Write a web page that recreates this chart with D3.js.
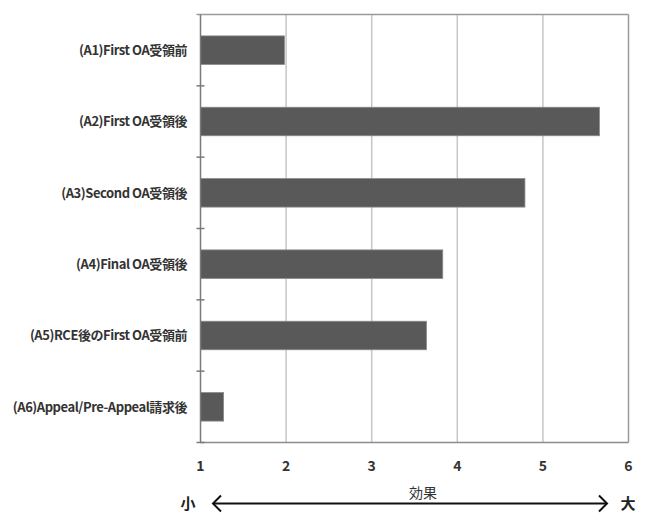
<!DOCTYPE html>
<html><head><meta charset="utf-8">
<script src="https://cdn.jsdelivr.net/npm/d3@7"></script>
<style>
html,body{margin:0;padding:0;background:#fff;}
svg{display:block;}
text{font-family:"Noto Sans CJK JP","Noto Sans",sans-serif;}
</style></head>
<body>
<svg id="c" width="650" height="513"></svg>
<script>
const categories = [
  "(A1)First OA受領前",
  "(A2)First OA受領後",
  "(A3)Second OA受領後",
  "(A4)Final OA受領後",
  "(A5)RCE後のFirst OA受領前",
  "(A6)Appeal/Pre-Appeal請求後"
];
const values = [1.98, 5.66, 4.79, 3.83, 3.64, 1.27];
const xTicks = [1, 2, 3, 4, 5, 6];
const axisTitle = "効果";
const lowLabel = "小";
const highLabel = "大";

const svg = d3.select("#c");
const L = 200.5, R = 628.5, T = 14.5, B = 442.5;

const x = d3.scaleLinear().domain([1, 6]).range([L, R]);
const y = d3.scaleBand().domain(categories).range([T, B]).paddingInner(0.6).paddingOuter(0.3);

// gridlines
svg.append("g").selectAll("line").data(xTicks.filter(d => d > 1 && d < 6)).join("line")
  .attr("x1", d => x(d)).attr("x2", d => x(d)).attr("y1", T).attr("y2", B)
  .attr("stroke", "#c6c6c6").attr("stroke-width", 1.5);

// border top & right
svg.append("line").attr("x1", L - 4).attr("x2", R).attr("y1", T).attr("y2", T)
  .attr("stroke", "#9a9a9a").attr("stroke-width", 1.5);
svg.append("line").attr("x1", R).attr("x2", R).attr("y1", T).attr("y2", B)
  .attr("stroke", "#9a9a9a").attr("stroke-width", 1.5);

// bars
svg.append("g").selectAll("rect").data(categories).join("rect")
  .attr("x", x(1))
  .attr("y", d => y(d))
  .attr("width", (d, i) => x(values[i]) - x(1))
  .attr("height", y.bandwidth())
  .attr("fill", "#595959")
  .attr("stroke", "#8a8a8a").attr("stroke-width", 0.8);

// bottom axis line
svg.append("line").attr("x1", L).attr("x2", R).attr("y1", B).attr("y2", B)
  .attr("stroke", "#8c8c8c").attr("stroke-width", 1.5);
// left axis line
svg.append("line").attr("x1", L).attr("x2", L).attr("y1", T).attr("y2", B)
  .attr("stroke", "#7a7a7a").attr("stroke-width", 1.5);

// y boundary ticks
const step = y.step();
const bounds = categories.map(c => y(c) - step * y.paddingInner() / 2).slice(1);
bounds.push(B);
svg.append("g").selectAll("line").data(bounds).join("line")
  .attr("x1", L - 4).attr("x2", L + 4).attr("y1", d => d).attr("y2", d => d)
  .attr("stroke", "#7a7a7a").attr("stroke-width", 1.5);

// category labels
svg.append("g").selectAll("text").data(categories).join("text")
  .attr("x", 187).attr("y", d => y(d) + y.bandwidth() / 2)
  .attr("dy", "0.36em").attr("text-anchor", "end")
  .attr("font-size", 13).attr("letter-spacing", "-0.45px").attr("font-weight", "bold").attr("fill", "#333")
  .text(d => d);

// x tick labels
svg.append("g").selectAll("text").data(xTicks).join("text")
  .attr("x", d => x(d)).attr("y", 466).attr("dy", "0.36em")
  .attr("text-anchor", "middle").attr("font-size", 14).attr("font-weight", "bold").attr("fill", "#333")
  .text(d => d);

// axis title
svg.append("text").attr("x", x(3.6)).attr("y", 493).attr("dy", "0.36em")
  .attr("text-anchor", "middle").attr("font-size", 14).attr("fill", "#333").text(axisTitle);

// arrow
const ay = 503.5, ax1 = 213, ax2 = 607;
svg.append("line").attr("x1", ax1).attr("x2", ax2).attr("y1", ay).attr("y2", ay)
  .attr("stroke", "#111").attr("stroke-width", 2);
svg.append("path").attr("d", `M${ax1 + 8},${ay - 8}L${ax1},${ay}L${ax1 + 8},${ay + 8}`)
  .attr("fill", "none").attr("stroke", "#111").attr("stroke-width", 2);
svg.append("path").attr("d", `M${ax2 - 8},${ay - 8}L${ax2},${ay}L${ax2 - 8},${ay + 8}`)
  .attr("fill", "none").attr("stroke", "#111").attr("stroke-width", 2);

svg.append("text").attr("x", 188).attr("y", 504).attr("dy", "0.36em")
  .attr("text-anchor", "middle").attr("font-size", 15).attr("font-weight", "bold").attr("fill", "#222").text(lowLabel);
svg.append("text").attr("x", 628).attr("y", 504).attr("dy", "0.36em")
  .attr("text-anchor", "middle").attr("font-size", 15).attr("font-weight", "bold").attr("fill", "#222").text(highLabel);
</script>
</body></html>
